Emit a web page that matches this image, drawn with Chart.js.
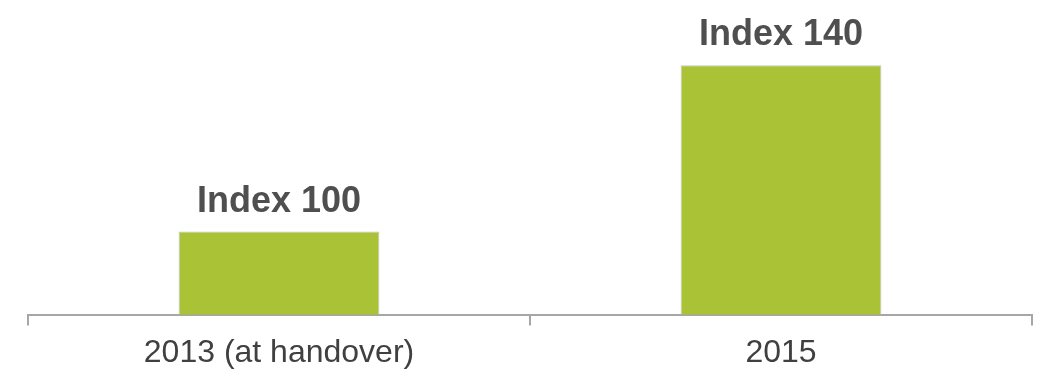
<!DOCTYPE html>
<html>
<head>
<meta charset="utf-8">
<script src="https://cdn.jsdelivr.net/npm/chart.js@4"></script>
<style>
html,body{margin:0;padding:0;background:#fff;overflow:hidden;}
#wrap{width:1040px;height:369px;overflow:hidden;}
canvas{display:block;}
</style>
</head>
<body>
<div id="wrap"><canvas id="c" width="1040" height="380"></canvas></div>
<script>
const categories = ['2013 (at handover)', '2015'];
const values = [100, 140];
const valueLabels = ['Index 100', 'Index 140'];

const barLabelPlugin = {
  id: 'barLabels',
  afterDatasetsDraw(chart) {
    const ctx = chart.ctx;
    const meta = chart.getDatasetMeta(0);
    ctx.save();
    ctx.font = 'bold 36px "Liberation Sans", Arial, sans-serif';
    ctx.fillStyle = '#4F4F4F';
    ctx.textAlign = 'center';
    ctx.textBaseline = 'alphabetic';
    meta.data.forEach((bar, i) => {
      ctx.fillText(valueLabels[i], bar.x, bar.y - 20);
    });
    ctx.restore();
  }
};

new Chart(document.getElementById('c'), {
  type: 'bar',
  data: {
    labels: categories,
    datasets: [{
      data: values,
      backgroundColor: '#AAC235',
      borderColor: '#C4C4C4',
      borderWidth: 1,
      barPercentage: 0.4,
      categoryPercentage: 1.0
    }]
  },
  options: {
    responsive: false,
    animation: false,
    layout: { padding: { top: 3, left: 28, right: 8, bottom: 0 } },
    plugins: { legend: { display: false }, tooltip: { enabled: false } },
    scales: {
      y: { display: false, min: 80, max: 155 },
      x: {
        grid: { display: true, drawOnChartArea: false, drawTicks: true, tickLength: 11, color: '#A6A6A6', lineWidth: 2, offset: true },
        border: { display: true, color: '#A6A6A6', width: 2 },
        ticks: { color: '#404040', font: { family: '"Liberation Sans", Arial, sans-serif', size: 32 }, padding: 8, maxRotation: 0 }
      }
    }
  },
  plugins: [barLabelPlugin]
});
</script>
</body>
</html>
